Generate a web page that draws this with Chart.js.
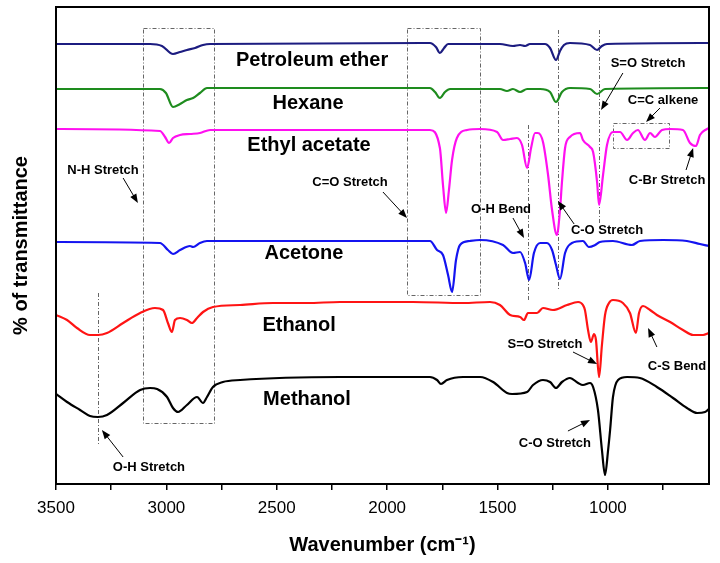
<!DOCTYPE html>
<html>
<head>
<meta charset="utf-8">
<script src="https://cdn.jsdelivr.net/npm/chart.js@4"></script>
<style>
  body { margin: 0; background: #fff; }
</style>
</head>
<body>
<canvas id="ftir" width="720" height="563"></canvas>
<script>
// Spectra: wavenumber (cm-1) and offset transmittance (a.u.)
const petroleumWn = [3500, 3074, 3020, 2970, 2938, 2907, 2870, 2834, 2802, 1806, 1779, 1761, 1742, 1724, 1489, 1430, 1398, 1375, 1353, 1285, 1262, 1235, 1217, 1199, 1172, 1081, 1049, 1027, 1004, 542]
const petroleumT = [440, 440, 438, 430, 432, 434, 436, 439, 440, 441, 437, 431, 436, 440, 440, 438, 439, 438, 440, 440, 436, 424, 433, 439, 441, 439, 434, 438, 440, 441]

const hexaneWn = [3500, 3029, 3002, 2970, 2938, 2907, 2879, 2848, 2816, 1806, 1783, 1761, 1738, 1715, 1489, 1457, 1430, 1398, 1366, 1307, 1262, 1235, 1208, 1172, 1081, 1049, 1013, 542]
const hexaneT = [395, 395, 391, 377, 380, 384, 386, 391, 396, 396, 392, 386, 392, 395, 395, 393, 395, 392, 395, 395, 392, 382, 392, 396, 395, 390, 395, 396]

const ethylWn = [3500, 3029, 3006, 2988, 2970, 2938, 2893, 2848, 2802, 1806, 1761, 1747, 1733, 1720, 1706, 1684, 1638, 1579, 1502, 1475, 1443, 1412, 1389, 1366, 1348, 1330, 1317, 1294, 1271, 1253, 1231, 1217, 1208, 1194, 1172, 1126, 1113, 1081, 1067, 1049, 1040, 1022, 1004, 977, 945, 913, 886, 864, 832, 809, 787, 755, 718, 660, 628, 601, 583, 551, 542]
const ethylT = [355, 353, 347, 341, 346, 349, 350, 351, 354, 354, 336, 299, 271, 294, 324, 346, 354, 355, 352, 344, 345, 346, 339, 316, 336, 351, 351, 342, 309, 274, 249, 274, 302, 336, 347, 351, 344, 337, 332, 302, 279, 309, 339, 352, 352, 344, 351, 354, 344, 351, 347, 354, 355, 354, 341, 338, 349, 355, 356]

const acetoneWn = [3500, 3029, 2993, 2970, 2938, 2893, 2879, 2848, 2816, 1806, 1774, 1747, 1724, 1706, 1688, 1670, 1625, 1579, 1475, 1430, 1398, 1375, 1357, 1335, 1307, 1276, 1253, 1235, 1217, 1194, 1163, 1113, 1086, 1058, 1036, 977, 891, 855, 750, 642, 583, 542]
const acetoneT = [242, 241, 234, 230, 234, 238, 237, 241, 243, 243, 234, 229, 209, 192, 224, 239, 243, 244, 239, 231, 232, 221, 204, 231, 241, 241, 234, 219, 205, 231, 241, 243, 237, 239, 242, 243, 239, 243, 244, 243, 240, 238]

const ethanolWn = [3500, 3450, 3405, 3346, 3310, 3269, 3196, 3119, 3052, 3015, 2993, 2975, 2961, 2938, 2907, 2884, 2861, 2834, 2789, 2666, 2517, 2363, 2213, 1883, 1656, 1534, 1489, 1443, 1398, 1380, 1362, 1321, 1294, 1249, 1185, 1135, 1113, 1104, 1090, 1077, 1063, 1054, 1040, 1027, 1013, 995, 977, 932, 900, 873, 859, 841, 809, 778, 718, 660, 614, 569, 542]
const ethanolT = [169, 164, 156, 149, 149, 151, 161, 171, 176, 174, 161, 152, 164, 166, 164, 161, 166, 172, 177, 179, 181, 181, 182, 182, 181, 182, 179, 169, 167, 164, 171, 171, 176, 174, 179, 182, 179, 174, 154, 142, 150, 144, 107, 139, 169, 181, 184, 181, 171, 151, 171, 178, 174, 169, 162, 154, 149, 149, 151]

const methanolWn = [3500, 3450, 3391, 3346, 3310, 3269, 3196, 3119, 3074, 3042, 2997, 2970, 2947, 2907, 2861, 2834, 2816, 2789, 2744, 2666, 2213, 1806, 1774, 1756, 1729, 1656, 1579, 1520, 1457, 1434, 1366, 1339, 1294, 1262, 1235, 1208, 1172, 1135, 1113, 1081, 1067, 1045, 1027, 1013, 999, 990, 977, 954, 913, 855, 778, 705, 642, 596, 560, 542]
const methanolT = [90, 82, 74, 68, 67, 69, 81, 94, 96, 95, 87, 76, 72, 79, 87, 81, 87, 97, 102, 104, 107, 107, 104, 100, 104, 107, 107, 102, 91, 90, 92, 99, 104, 102, 96, 102, 106, 101, 99, 101, 97, 74, 34, 9, 34, 54, 87, 104, 107, 106, 97, 86, 76, 71, 72, 75]

// x axis: tick marks every 250, labels every 500
const tickValues = [3500, 3250, 3000, 2750, 2500, 2250, 2000, 1750, 1500, 1250, 1000, 750]

const seriesNames = ['Petroleum ether', 'Hexane', 'Ethyl acetate', 'Acetone', 'Ethanol', 'Methanol']
const seriesColors = ['#1c1c80', '#1e8c1e', '#ff10f0', '#1414f0', '#ff1414', '#000000']
const seriesWn = [petroleumWn, hexaneWn, ethylWn, acetoneWn, ethanolWn, methanolWn]
const seriesT = [petroleumT, hexaneT, ethylT, acetoneT, ethanolT, methanolT]

// where the sample names sit (wavenumber, transmittance)
const nameSpots = [[2340, 424], [2358, 381], [2354, 339], [2377, 231], [2399, 159], [2363, 85]]

// band notes: text, text centre, arrow tail, arrow head
const notes = [
    ['N-H Stretch', [3287, 314], [3196, 306], [3129, 281]],
    ['C=O Stretch', [2168, 302], [2019, 292], [1910, 266]],
    ['O-H Bend', [1484, 275], [1430, 266], [1380, 246]],
    ['C-O Stretch', [1004, 254], [1153, 260], [1226, 283]],
    ['S=O Stretch', [818, 421], [932, 411], [1031, 374]],
    ['C=C alkene', [750, 384], [764, 376], [827, 362]],
    ['C-Br Stretch', [732, 304], [646, 314], [614, 336]],
    ['S=O Stretch', [1285, 140], [1158, 132], [1049, 120]],
    ['C-S Bend', [687, 118], [778, 137], [818, 156]],
    ['C-O Stretch', [1240, 41], [1181, 53], [1081, 64]],
    ['O-H Stretch', [3079, 17], [3196, 27], [3292, 54]],
]

// dash-dot guide boxes [wnA, wnB, tTop, tBottom] and lines [wn, tTop, tBottom]
const guideBoxes = [[3106, 2784, 456, 61], [1910, 1579, 456, 189], [977, 723, 361, 336]]
const guideLines = [[1228, 454, 194], [1040, 454, 261], [1362, 359, 184], [3310, 191, 39]]

const fontFamily = '"Liberation Sans", Arial, sans-serif'

var annotate = {
    id: 'annotate',
    beforeDatasetsDraw(chart) {
        const ctx = chart.ctx, x = chart.scales.x, y = chart.scales.y
        ctx.save()
        ctx.strokeStyle = '#666'
        ctx.lineWidth = 1
        ctx.setLineDash([4, 2, 1, 2])
        guideBoxes.forEach(function (b) {
            var x0 = x.getPixelForValue(b[0]), x1 = x.getPixelForValue(b[1])
            var y0 = y.getPixelForValue(b[2]), y1 = y.getPixelForValue(b[3])
            ctx.strokeRect(Math.round(x0) + 0.5, Math.round(y0) + 0.5, Math.round(x1 - x0), Math.round(y1 - y0))
        })
        guideLines.forEach(function (l) {
            var px = Math.round(x.getPixelForValue(l[0])) + 0.5
            ctx.beginPath()
            ctx.moveTo(px, y.getPixelForValue(l[1]))
            ctx.lineTo(px, y.getPixelForValue(l[2]))
            ctx.stroke()
        })
        ctx.restore()
    },
    afterDatasetsDraw(chart) {
        const ctx = chart.ctx, x = chart.scales.x, y = chart.scales.y
        ctx.save()
        ctx.fillStyle = '#000'
        ctx.textAlign = 'center'
        ctx.textBaseline = 'middle'
        ctx.font = 'bold 20px ' + fontFamily
        seriesNames.forEach(function (n, i) {
            ctx.fillText(n, x.getPixelForValue(nameSpots[i][0]), y.getPixelForValue(nameSpots[i][1]))
        })
        ctx.font = 'bold 13px ' + fontFamily
        ctx.strokeStyle = '#000'
        ctx.lineWidth = 1
        notes.forEach(function (n) {
            ctx.fillText(n[0], x.getPixelForValue(n[1][0]), y.getPixelForValue(n[1][1]))
            var x0 = x.getPixelForValue(n[2][0]), y0 = y.getPixelForValue(n[2][1])
            var x1 = x.getPixelForValue(n[3][0]), y1 = y.getPixelForValue(n[3][1])
            var a = Math.atan2(y1 - y0, x1 - x0)
            ctx.beginPath()
            ctx.moveTo(x0, y0)
            ctx.lineTo(x1 - 6 * Math.cos(a), y1 - 6 * Math.sin(a))
            ctx.stroke()
            ctx.beginPath()
            ctx.moveTo(x1, y1)
            ctx.lineTo(x1 - 9 * Math.cos(a) + 3.5 * Math.sin(a), y1 - 9 * Math.sin(a) - 3.5 * Math.cos(a))
            ctx.lineTo(x1 - 9 * Math.cos(a) - 3.5 * Math.sin(a), y1 - 9 * Math.sin(a) + 3.5 * Math.cos(a))
            ctx.closePath()
            ctx.fill()
        })
        // frame round the plot
        var area = chart.chartArea
        ctx.lineWidth = 2
        ctx.strokeRect(area.left, area.top, area.right - area.left, area.bottom - area.top)
        ctx.restore()
    }
}

var datasets = seriesNames.map(function (name, i) {
    return {
        label: name,
        data: seriesWn[i].map(function (w, k) { return { x: w, y: seriesT[i][k] } }),
        borderColor: seriesColors[i],
        borderWidth: 2.2,
        pointRadius: 0,
        fill: false,
        cubicInterpolationMode: 'monotone'
    }
})

new Chart(document.getElementById('ftir'), {
    type: 'line',
    data: { datasets: datasets },
    plugins: [annotate],
    options: {
        responsive: false,
        animation: false,
        devicePixelRatio: 1,
        layout: { padding: { top: 7, right: 11, left: 0, bottom: 0 } },
        plugins: { legend: { display: false }, tooltip: { enabled: false } },
        scales: {
            x: {
                type: 'linear',
                reverse: true,
                min: 542,
                max: 3500,
                afterFit: function (s) { s.height = 79 },
                afterBuildTicks: function (s) {
                    s.ticks = tickValues.map(function (v) { return { value: v } })
                },
                ticks: {
                    autoSkip: false,
                    maxRotation: 0,
                    padding: 8,
                    color: '#000',
                    font: { family: fontFamily, size: 17 },
                    callback: function (v) { return v % 500 === 0 ? v : '' }
                },
                grid: { drawOnChartArea: false, tickLength: 6, color: '#000', lineWidth: 1.5 },
                border: { color: '#000', width: 2 },
                title: {
                    display: true,
                    text: 'Wavenumber (cm\u207B\u00B9)',
                    color: '#000',
                    font: { family: fontFamily, size: 20, weight: 'bold' },
                    padding: { top: 0, bottom: 6 }
                }
            },
            y: {
                type: 'linear',
                min: 0,
                max: 477,
                afterFit: function (s) { s.width = 56 },
                ticks: { display: false },
                grid: { drawOnChartArea: false, drawTicks: false },
                border: { color: '#000', width: 2 },
                title: {
                    display: true,
                    text: '% of transmittance',
                    color: '#000',
                    font: { family: fontFamily, size: 20, weight: 'bold' },
                    padding: { top: 9, bottom: 0 }
                }
            }
        }
    }
})
</script>
</body>
</html>
